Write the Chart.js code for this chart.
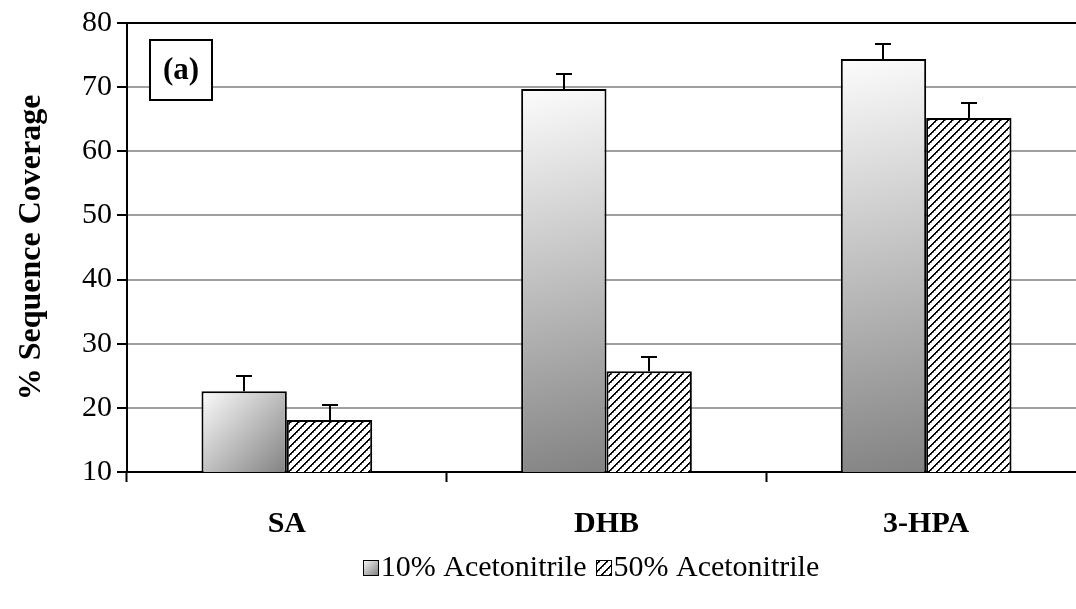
<!DOCTYPE html>
<html>
<head>
<meta charset="utf-8">
<title>% Sequence Coverage</title>
<script src="https://cdn.jsdelivr.net/npm/chart.js@4.4.1/dist/chart.umd.min.js"></script>
<style>
  html, body { margin: 0; padding: 0; background: #ffffff; overflow: hidden; }
  #wrap { position: relative; width: 1100px; height: 609px; }
</style>
</head>
<body>
<div id="wrap"><canvas id="chart" width="1100" height="609"></canvas></div>
<script>
// ---- data ----
const categories = ['SA', 'DHB', '3-HPA'];
const seriesNames = ['10% Acetonitrile', '50% Acetonitrile'];
const coverage10 = [22.6, 69.7, 74.4];
const coverage50 = [18.1, 25.7, 65.2];
const error10 = [2.4, 2.3, 2.3];
const error50 = [2.4, 2.3, 2.4];
const yTicks = [10, 20, 30, 40, 50, 60, 70, 80];
const yTitle = '% Sequence Coverage';
const panelLabel = '(a)';

// ---- styling ----
const SERIF = '"Liberation Serif", "Times New Roman", Times, serif';
const CAT_PCT = 0.534;

// diagonal hatch fill
function makeHatch() {
  const c = document.createElement('canvas');
  c.width = 8; c.height = 8;
  const g = c.getContext('2d');
  g.fillStyle = '#ffffff';
  g.fillRect(0, 0, 8, 8);
  for (let i = 0; i < 8; i++) {
    g.fillStyle = '#000000';
    g.fillRect(i, 7 - i, 1, 1);
    g.fillRect((i + 1) % 8, 7 - i, 1, 1);
    g.fillStyle = (i % 2) ? '#8a8a8a' : '#ffffff';
    g.fillRect((i + 2) % 8, 7 - i, 1, 1);
  }
  return c;
}
const hatchTile = makeHatch();
const ctx0 = document.getElementById('chart').getContext('2d');
const hatch = ctx0.createPattern(hatchTile, 'repeat');

function shadeGradient(ctx, x0, y0, x1, y1) {
  const g = ctx.createLinearGradient(x0, y0, x1, y1);
  g.addColorStop(0, '#fcfcfc');
  g.addColorStop(1, '#828282');
  return g;
}

// per-bar diagonal shading for the 10% series
function barGradient(context) {
  const chart = context.chart;
  const xs = chart.scales && chart.scales.x;
  const ys = chart.scales && chart.scales.y;
  if (!chart.chartArea || !xs || !ys || context.type !== 'data') return '#cccccc';
  const i = context.dataIndex;
  const center = xs.getPixelForValue(i);
  const catW = xs.width / categories.length;
  const w = catW * CAT_PCT / 2;
  const top = ys.getPixelForValue(context.raw);
  const bottom = ys.getPixelForValue(ys.min);
  return shadeGradient(chart.ctx, center - w, top, center, bottom);
}

// positive-only error bars with caps
const errorBars = {
  id: 'errorBars',
  afterDatasetsDraw(chart) {
    const ctx = chart.ctx;
    const ys = chart.scales.y;
    const errs = [error10, error50];
    ctx.save();
    ctx.strokeStyle = '#000000';
    ctx.lineWidth = 2;
    chart.data.datasets.forEach((ds, di) => {
      const meta = chart.getDatasetMeta(di);
      meta.data.forEach((bar, i) => {
        const yTop = ys.getPixelForValue(ds.data[i]);
        const yErr = ys.getPixelForValue(ds.data[i] + errs[di][i]);
        const x = Math.round(bar.x);
        ctx.beginPath();
        ctx.moveTo(x, yTop);
        ctx.lineTo(x, yErr);
        ctx.moveTo(x - 8, Math.round(yErr));
        ctx.lineTo(x + 8, Math.round(yErr));
        ctx.stroke();
      });
    });
    ctx.restore();
  }
};

// boxed panel label in the top-left corner of the plot
const panelTag = {
  id: 'panelTag',
  afterDraw(chart) {
    const ctx = chart.ctx;
    const a = chart.chartArea;
    const x = a.left + 23, y = a.top + 17, w = 62, h = 60;
    ctx.save();
    ctx.fillStyle = '#ffffff';
    ctx.fillRect(x, y, w, h);
    ctx.strokeStyle = '#000000';
    ctx.lineWidth = 2;
    ctx.strokeRect(x, y, w, h);
    ctx.fillStyle = '#000000';
    ctx.font = 'bold 31px ' + SERIF;
    ctx.textAlign = 'center';
    ctx.textBaseline = 'middle';
    ctx.fillText(panelLabel, x + w / 2, y + h / 2 + 1);
    ctx.restore();
  }
};

// legend row under the chart
const seriesLegend = {
  id: 'seriesLegend',
  afterDraw(chart) {
    const ctx = chart.ctx;
    const fills = [null, hatch];
    const box = 15, gapBox = 3, gapItem = 9, cx = 591, cy = 567;
    ctx.save();
    ctx.font = '30px ' + SERIF;
    ctx.textBaseline = 'middle';
    ctx.textAlign = 'left';
    const widths = seriesNames.map(n => ctx.measureText(n).width);
    const total = widths.reduce((s, w) => s + box + gapBox + w, 0) + gapItem * (seriesNames.length - 1);
    let x = cx - total / 2;
    seriesNames.forEach((name, k) => {
      const bx = Math.round(x), by = Math.round(cy - box / 2);
      ctx.fillStyle = fills[k] || shadeGradient(ctx, bx, by, bx + box, by + box);
      ctx.fillRect(bx, by, box, box);
      ctx.strokeStyle = '#000000';
      ctx.lineWidth = 1;
      ctx.strokeRect(bx + 0.5, by + 0.5, box, box);
      ctx.fillStyle = '#000000';
      ctx.fillText(name, x + box + gapBox, cy + 1);
      x += box + gapBox + widths[k] + gapItem;
    });
    ctx.restore();
  }
};

new Chart(ctx0, {
  type: 'bar',
  data: {
    labels: categories,
    datasets: [
      {
        label: seriesNames[0],
        data: coverage10,
        backgroundColor: barGradient,
        borderColor: '#000000',
        borderWidth: 2,
        borderSkipped: false
      },
      {
        label: seriesNames[1],
        data: coverage50,
        backgroundColor: hatch,
        borderColor: '#000000',
        borderWidth: 2,
        borderSkipped: false
      }
    ]
  },
  options: {
    responsive: false,
    devicePixelRatio: 1,
    animation: false,
    categoryPercentage: CAT_PCT,
    barPercentage: 1.0,
    layout: { padding: { top: 22, right: 14, left: 0, bottom: 0 } },
    plugins: {
      legend: { display: false },
      tooltip: { enabled: false }
    },
    scales: {
      x: {
        grid: {
          display: true,
          drawOnChartArea: false,
          drawTicks: true,
          tickLength: 10,
          tickColor: '#000000',
          tickWidth: 2,
          offset: true
        },
        border: { display: true, color: '#000000', width: 2 },
        ticks: {
          color: '#000000',
          padding: 24,
          font: { family: SERIF, size: 30, weight: 'bold' }
        },
        afterFit(s) { s.height = 137; }
      },
      y: {
        min: 10,
        max: 80,
        afterBuildTicks(s) { s.ticks = yTicks.map(v => ({ value: v })); },
        grid: {
          color: c => (c.tick && c.tick.value === 80) ? '#000000' : '#a0a0a0',
          lineWidth: 2,
          drawTicks: true,
          tickLength: 10,
          tickColor: '#000000',
          tickWidth: 2
        },
        border: { display: true, color: '#000000', width: 2 },
        ticks: {
          color: '#000000',
          padding: 5,
          font: { family: SERIF, size: 30 }
        },
        title: {
          display: true,
          text: yTitle,
          color: '#000000',
          padding: { top: 13, bottom: 0 },
          font: { family: SERIF, size: 32, weight: 'bold' }
        },
        afterFit(s) { s.width = 127; }
      }
    }
  },
  plugins: [errorBars, panelTag, seriesLegend]
});
</script>
</body>
</html>
